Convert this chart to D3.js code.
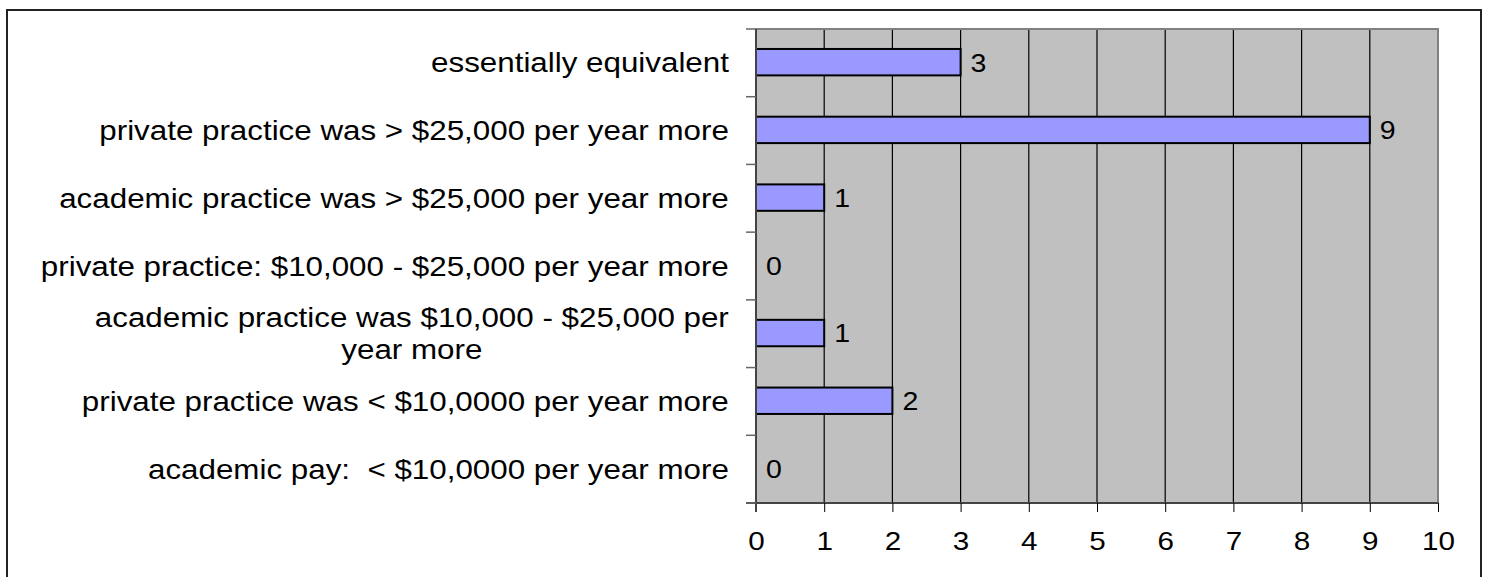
<!DOCTYPE html>
<html>
<head>
<meta charset="utf-8">
<script src="https://cdn.jsdelivr.net/npm/d3@7"></script>
<style>
  html, body { margin: 0; padding: 0; background: #fff; }
  svg { display: block; }
  text { font-family: "Liberation Sans", Arial, sans-serif; fill: #000; }
</style>
</head>
<body>
<svg id="chart" width="1486" height="577"></svg>
<script>
// Survey responses: how academic pay compared with private practice
const categories = [
  "essentially equivalent",
  "private practice was > $25,000 per year more",
  "academic practice was > $25,000 per year more",
  "private practice: $10,000 - $25,000 per year more",
  "academic practice was $10,000 - $25,000 per year more",
  "private practice was < $10,0000 per year more",
  "academic pay:  < $10,0000 per year more"
];
const counts = [3, 9, 1, 0, 1, 2, 0];
const xTicks = [0, 1, 2, 3, 4, 5, 6, 7, 8, 9, 10];

const svg = d3.select("#chart");
const plot = { left: 756, right: 1438, top: 29, bottom: 503 };
const labelFont = 27.5;   // category labels
const tickFont = 26;      // axis numbers
const valueFont = 25;     // bar value labels
const sx = 1.14;          // wide text setting

// Outer frame
svg.append("rect")
  .attr("x", 7).attr("y", 10)
  .attr("width", 1474).attr("height", 580)
  .attr("fill", "#fff").attr("stroke", "#222").attr("stroke-width", 2);

const x = d3.scaleLinear().domain([0, 10]).range([plot.left, plot.right]);
const y = d3.scaleBand().domain(categories).range([plot.top, plot.bottom]).padding(0);
const step = y.bandwidth();

// Plot background
svg.append("rect")
  .attr("x", plot.left).attr("y", plot.top)
  .attr("width", plot.right - plot.left).attr("height", plot.bottom - plot.top)
  .attr("fill", "#c0c0c0");

// Vertical gridlines
svg.append("g").selectAll("line")
  .data(xTicks.filter(d => d > 0 && d < 10))
  .join("line")
  .attr("x1", d => x(d)).attr("x2", d => x(d))
  .attr("y1", plot.top).attr("y2", plot.bottom)
  .attr("stroke", "#000").attr("stroke-width", 1.2);

// Plot border
svg.append("rect")
  .attr("x", plot.left).attr("y", plot.top)
  .attr("width", plot.right - plot.left).attr("height", plot.bottom - plot.top)
  .attr("fill", "none").attr("stroke", "#808080").attr("stroke-width", 2);

// Bars
svg.append("g").selectAll("rect")
  .data(categories)
  .join("rect")
  .attr("x", x(0))
  .attr("y", d => y(d) + step * 0.295)
  .attr("width", (d, i) => x(counts[i]) - x(0))
  .attr("height", step * 0.39)
  .attr("fill", "#9999ff")
  .attr("stroke", "#000")
  .attr("stroke-width", 2)
  .attr("display", (d, i) => counts[i] > 0 ? null : "none");

// Value labels
svg.append("g").selectAll("text")
  .data(categories)
  .join("text")
  .attr("transform", (d, i) => `translate(${x(counts[i]) + 10},${y(d) + step / 2}) scale(${sx},1)`)
  .attr("dy", "0.35em")
  .attr("font-size", valueFont)
  .text((d, i) => counts[i]);

// X axis
const xAxis = svg.append("g")
  .attr("transform", `translate(0,${plot.bottom})`)
  .call(d3.axisBottom(x).tickValues(xTicks).tickSize(9).tickPadding(20).tickFormat(d3.format("d")));
xAxis.select(".domain").attr("stroke", "#444").attr("stroke-width", 2)
  .attr("d", `M${plot.left - 10},0H${plot.right}`);
xAxis.selectAll(".tick line").attr("stroke", "#000");
xAxis.selectAll(".tick text")
  .attr("font-size", tickFont)
  .attr("font-family", "'Liberation Sans', Arial, sans-serif")
  .attr("fill", "#000")
  .attr("transform", `scale(${sx},1)`);

// Y axis line and category separators
const yAxis = svg.append("g");
yAxis.append("line")
  .attr("x1", plot.left).attr("x2", plot.left)
  .attr("y1", plot.top).attr("y2", plot.bottom + 9)
  .attr("stroke", "#444").attr("stroke-width", 2);
yAxis.selectAll("line.sep")
  .data(d3.range(categories.length + 1))
  .join("line")
  .attr("class", "sep")
  .attr("x1", plot.left - 10).attr("x2", plot.left)
  .attr("y1", i => plot.top + i * step).attr("y2", i => plot.top + i * step)
  .attr("stroke", "#666").attr("stroke-width", 1.5);

// Category labels, wrapped to a maximum width; lines centred within the block
const labelRight = 729;
const maxWidth = 695;
const lineHeight = 32;
const measurer = svg.append("text")
  .attr("font-size", labelFont)
  .attr("xml:space", "preserve")
  .attr("visibility", "hidden");
function measure(s) { measurer.text(s); return measurer.node().getComputedTextLength() * sx; }
function wrap(s) {
  const words = s.split(" ");
  const lines = [];
  let cur = "";
  words.forEach(w => {
    const trial = cur === "" ? w : cur + " " + w;
    if (cur !== "" && measure(trial) > maxWidth) { lines.push(cur); cur = w; }
    else cur = trial;
  });
  lines.push(cur);
  return lines;
}
const labels = svg.append("g");
categories.forEach(c => {
  const lines = wrap(c);
  const widest = d3.max(lines, measure);
  const cx = labelRight - widest / 2;
  const cy = y(c) + step / 2;
  lines.forEach((ln, k) => {
    labels.append("text")
      .attr("font-size", labelFont)
      .attr("text-anchor", "middle")
      .attr("xml:space", "preserve")
      .attr("transform", `translate(${cx},${cy + (k - (lines.length - 1) / 2) * lineHeight}) scale(${sx},1)`)
      .attr("dy", "0.35em")
      .text(ln);
  });
});
measurer.remove();
</script>
</body>
</html>
